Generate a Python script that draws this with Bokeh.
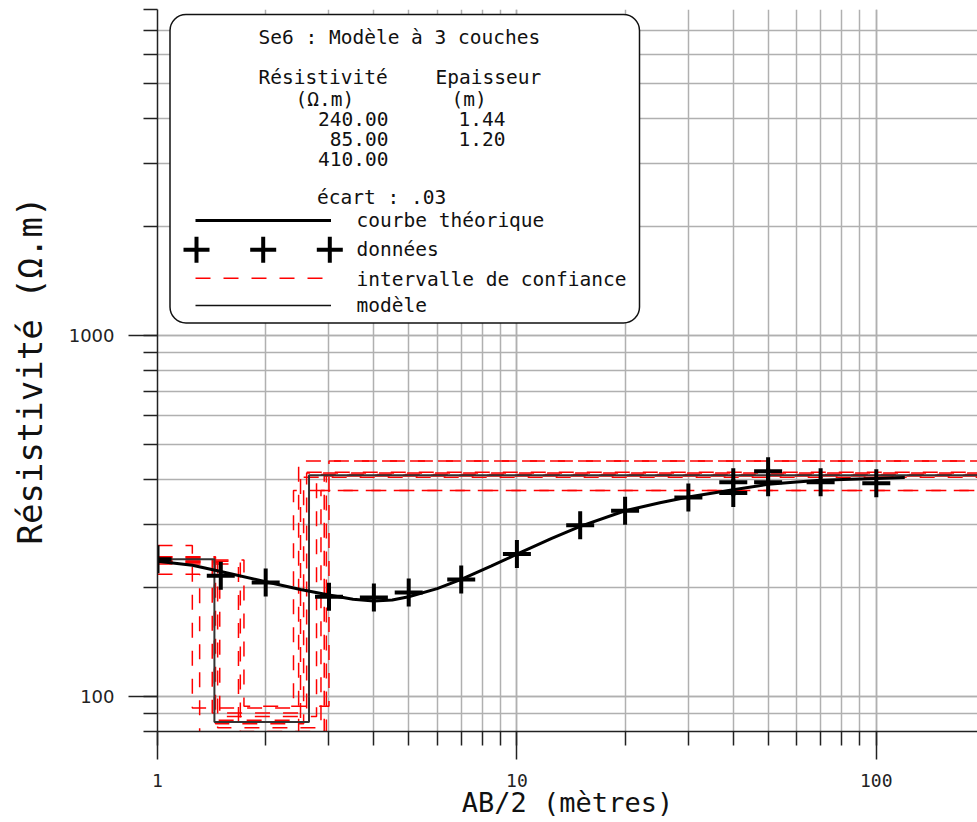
import numpy as np
from bokeh.plotting import figure
from bokeh.models import Range1d, LogTicker, NumeralTickFormatter, BoxAnnotation, Label
from bokeh.embed import file_html
from bokeh.resources import INLINE

# ---------------- data ----------------
# measured apparent resistivity (AB/2 in m, rho in ohm.m)
ab2 = [1, 1.5, 2, 3, 4, 5, 7, 10, 15, 20, 30, 40, 40, 50, 50, 70, 100]
rho_app = [240, 216, 207, 189, 188, 194, 211, 248, 298, 327, 356, 366, 392, 392, 421, 392, 390]

# theoretical curve
curve_x = [1, 1.25, 1.5, 2, 2.5, 3, 3.5, 4, 4.5, 5, 6, 7, 8.5, 10, 12.5, 15, 20, 25, 30,
           40, 50, 60, 70, 85, 100, 120]
curve_y = [237, 231, 222, 208, 198, 191, 186, 184, 185, 189, 199, 211, 230, 248, 274, 296,
           327, 344, 357, 374, 387, 393, 397, 400, 402, 404]

# 3-layer model
model_rho = [240.0, 85.0, 410.0]
model_h = [1.44, 1.20]
ecart = ".03"

# equivalent models (confidence interval)
eq_rho1 = [262, 218, 244, 236, 241, 233, 239, 235, 243, 237]
eq_h1 = [1.25, 1.31, 1.45, 1.49, 1.42, 1.68, 1.74, 1.47, 1.44, 1.70]
eq_rho2 = [93, 77, 84, 88, 90, 79, 94, 82, 86, 80]
eq_h2 = [1.14, 1.16, 1.10, 1.28, 1.18, 1.23, 1.26, 1.38, 1.06, 1.25]
eq_rho3 = [372, 449, 405, 412, 416, 408, 449, 372, 418, 410]

# ---------------- layout ----------------
W, H = 977, 822
FL, FR, FT, FB = 157, 977, 9, 731          # frame edges in page pixels
X0, Y0, Y1 = 1.0, 80.0, 8000.0
DEC_X = 359.4                               # px per decade along x
X1 = 10 ** (np.log10(X0) + (FR - FL) / DEC_X)


def dx(px):
    return 10 ** (np.log10(X0) + (px - FL) / (FR - FL) * np.log10(X1 / X0))


def dy(py):
    return 10 ** (np.log10(Y0) + (FB - py) / (FB - FT) * np.log10(Y1 / Y0))


p = figure(width=W, height=H, x_axis_type="log", y_axis_type="log",
           x_range=Range1d(X0, X1), y_range=Range1d(Y0, Y1),
           output_backend="svg", toolbar_location=None,
           min_border_left=FL, min_border_right=W - FR, min_border_top=FT,
           min_border_bottom=H - FB)
p.outline_line_color = None
p.background_fill_color = "white"
p.border_fill_color = "white"

GRID = "#b0b0b0"
for g in (p.xgrid, p.ygrid):
    g.grid_line_color = GRID
    g.grid_line_width = 1.5
    g.minor_grid_line_color = GRID
    g.minor_grid_line_width = 1.5

for ax in (p.xaxis, p.yaxis):
    ax.ticker = LogTicker(num_minor_ticks=10)
    ax.formatter = NumeralTickFormatter(format="0")
    ax.axis_line_color = "#222222"
    ax.axis_line_width = 1.5
    ax.major_tick_line_color = "#222222"
    ax.major_tick_line_width = 1.5
    ax.minor_tick_line_color = "#222222"
    ax.minor_tick_line_width = 1.5
    ax.major_tick_in = 0
    ax.minor_tick_in = 0
    ax.major_label_text_color = "#222222"
    ax.axis_label_text_color = "#111111"
    ax.axis_label_text_font_style = "normal"

p.xaxis.major_tick_out = 28
p.xaxis.minor_tick_out = 14
p.xaxis.major_label_text_font = "DejaVu Sans Mono"
p.xaxis.major_label_text_font_size = "18px"
p.xaxis.major_label_standoff = 14
p.xaxis.axis_label = "AB/2 (mètres)"
p.xaxis.axis_label_text_font = "DejaVu Sans Mono"
p.xaxis.axis_label_text_font_size = "27px"
p.xaxis.axis_label_standoff = -3

p.yaxis.major_tick_out = 29
p.yaxis.minor_tick_out = 14
p.yaxis.major_label_text_font = "DejaVu Sans"
p.yaxis.major_label_text_font_size = "18px"
p.yaxis.major_label_standoff = 14
p.yaxis.axis_label = "Résistivité (Ω.m)"
p.yaxis.axis_label_text_font = "DejaVu Sans Mono"
p.yaxis.axis_label_text_font_size = "34px"
p.yaxis.axis_label_standoff = 16

# ---------------- equivalent models (red dashed) ----------------
eq_xs, eq_ys = [], []
for r1, h1, r2, h2, r3 in zip(eq_rho1, eq_h1, eq_rho2, eq_h2, eq_rho3):
    d1 = h1
    d2 = h1 + h2
    eq_xs.append([X0, d1, d1, d2, d2, X1])
    eq_ys.append([r1, r1, r2, r2, r3, r3])
p.multi_line(eq_xs, eq_ys, line_color="red", line_width=1.5, line_dash="15 13")

# ---------------- model (thin black) ----------------
d1 = model_h[0]
d2 = model_h[0] + model_h[1]
p.line([X0, d1, d1, d2, d2, X1],
       [model_rho[0], model_rho[0], model_rho[1], model_rho[1], model_rho[2], model_rho[2]],
       line_color="#333333", line_width=2)

# ---------------- theoretical curve & data ----------------
p.line(curve_x, curve_y, line_color="black", line_width=3)
p.scatter(ab2, rho_app, marker="cross", size=28, line_width=4, line_color="black")

# ---------------- legend / info panel ----------------
panel = BoxAnnotation(left=dx(169.5), right=dx(639), top=dy(14), bottom=dy(322.5),
                      fill_color="white", fill_alpha=1.0, line_color="#111111",
                      line_alpha=1.0, line_width=1.5, border_radius=16, level="underlay")
p.add_layout(panel)

MONO = "DejaVu Sans Mono"
FS = "19.5px"


def lab(px, py, text, align="left"):
    p.add_layout(Label(x=dx(px), y=dy(py), text=text, text_font=MONO, text_font_size=FS,
                       text_align=align, text_baseline="middle", text_color="#111111"))


lab(258, 37, "Se6 : Modèle à  3 couches")
lab(258, 77, "Résistivité")
lab(435, 77, "Epaisseur")
lab(295, 99, "(Ω.m)")
lab(451, 99, "(m)")
for i, r in enumerate(model_rho):
    lab(388, 118.5 + 20 * i, f"{r:.2f}", align="right")
for i, h in enumerate(model_h):
    lab(458, 118.5 + 20 * i, f"{h:.2f}")
lab(316.5, 197, "écart : " + ecart)

lab(356, 220, "courbe théorique")
lab(356, 249, "données")
lab(356, 279, "intervalle de confiance")
lab(356, 305, "modèle")

p.line([dx(195), dx(330.5)], [dy(220), dy(220)], line_color="black", line_width=3)
p.scatter([dx(196), dx(262.7), dx(329.3)], [dy(249.3)] * 3, marker="cross", size=26,
          line_width=4, line_color="black")
p.line([dx(195), dx(323)], [dy(277.7), dy(277.7)], line_color="red", line_width=1.5,
       line_dash="15 13")
p.line([dx(195), dx(330.5)], [dy(305), dy(305)], line_color="#111111", line_width=1.5)

open("out.html", "w").write(file_html(p, INLINE))
